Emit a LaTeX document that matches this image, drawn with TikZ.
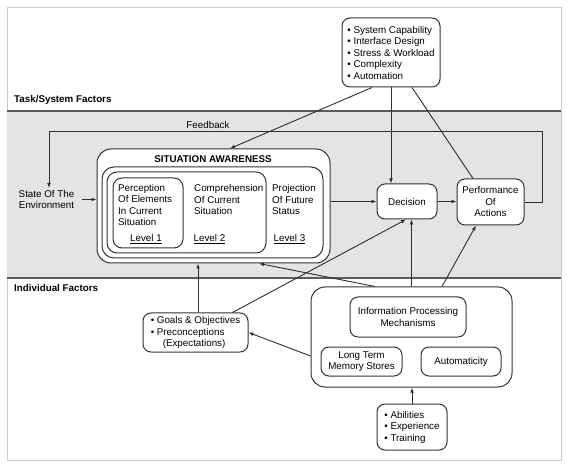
\documentclass[tikz,border=0pt]{standalone}
\usepackage{fontspec}
\setmainfont{Liberation Sans}
\usetikzlibrary{arrows.meta,calc}
\definecolor{framec}{HTML}{C8CCD6}
\definecolor{panelc}{HTML}{E4E4E4}
\definecolor{edgec}{HTML}{333333}
\definecolor{linec}{HTML}{2E2E2E}
\newcommand\fsz{\fontsize{9.8}{11.5}\selectfont}
\begin{document}
\begin{tikzpicture}[x=1pt,y=-1pt,
  every node/.style={font=\fsz, text=black},
  box/.style={draw=edgec, line width=1pt, rounded corners=8pt, fill=white, inner sep=0pt, align=center},
  txt/.style={inner sep=0pt, align=left},
  conn/.style={draw=linec, line width=0.9pt},
  arr/.style={conn, -{Latex[length=5pt,width=3.8pt]}},
  lab/.style={inner sep=0pt, font=\fsz\bfseries}
]
\useasboundingbox (0,0) rectangle (568,465);
\fill[white] (0,0) rectangle (568,465);
\draw[framec, line width=1pt] (7,8) rectangle (561,460);
\fill[panelc] (7,111) rectangle (561,278);
\draw[edgec!80, line width=1.1pt] (7,111) -- (561,111) (7,278) -- (561,278);

% labels
\node[lab, anchor=west] (tsf) at (14,100) {Task/System Factors};
\node[lab, anchor=west] (indf) at (14,288) {Individual Factors};
\node[txt] (fb) at (208,125) {Feedback};
\node[inner sep=2pt, align=center] (env) at (46.5,199.5) {State Of The\\Environment};

% top box
\node[box, minimum width=98pt, minimum height=69pt, align=left] (sys) at (391,52.5)
  {\textbullet\ System Capability\\\textbullet\ Interface Design\\\textbullet\ Stress \& Workload\\\textbullet\ Complexity\\\textbullet\ Automation};

% situation awareness
\node[box, rounded corners=14pt, minimum width=233pt, minimum height=114pt] (sa) at (213.5,206) {};
\node[box, rounded corners=12pt, minimum width=221pt, minimum height=91pt] (l3) at (212.5,212.5) {};
\node[box, rounded corners=10pt, minimum width=159pt, minimum height=81pt] (l2) at (186.5,212.5) {};
\node[box, rounded corners=9pt, minimum width=70pt, minimum height=70pt] (l1) at (148,213) {};
\node[lab] (satitle) at (213,159) {SITUATION AWARENESS};
\node[txt, anchor=west] (perc) at (118,205) {Perception\\Of Elements\\In Current\\Situation};
\node[txt] (lev1) at (146,239) {\underline{Level 1}};
\node[txt, anchor=west] (comp) at (194,199.5) {Comprehension\\Of Current\\Situation};
\node[txt] (lev2) at (209.5,239) {\underline{Level 2}};
\node[txt, anchor=west] (proj) at (272,199.5) {Projection\\Of Future\\Status};
\node[txt] (lev3) at (289.5,239) {\underline{Level 3}};

% decision / performance
\node[box, minimum width=60pt, minimum height=35pt] (dec) at (407,201.5) {Decision};
\node[box, minimum width=67pt, minimum height=46pt] (perf) at (490.5,202) {Performance\\Of\\Actions};

% individual factors
\node[box, minimum width=105pt, minimum height=39pt, align=left] (goals) at (195.5,332.5)
  {\textbullet\ Goals \& Objectives\\\textbullet\ Preconceptions\\\hspace*{12pt}(Expectations)};
\node[box, rounded corners=14pt, minimum width=201pt, minimum height=100pt] (ind) at (411.5,337) {};
\node[box, minimum width=116pt, minimum height=40pt] (ipm) at (408,317) {Information Processing\\Mechanisms};
\node[box, minimum width=81pt, minimum height=29pt] (ltm) at (361.5,361.5) {Long Term\\Memory Stores};
\node[box, minimum width=80pt, minimum height=29pt] (auto) at (461,361.5) {Automaticity};
\node[box, minimum width=70pt, minimum height=46pt, align=left] (abil) at (412,427)
  {\textbullet\ Abilities\\\textbullet\ Experience\\\textbullet\ Training};

% connectors
\coordinate (fbc) at (542,131);
\draw[arr] ([xshift=-19pt]sys.south) -- ([xshift=16.5pt]sa.north);
\draw[arr] (sys.south) -- (sys.south |- dec.north);
\draw[conn] ([xshift=21pt]sys.south) -- ([xshift=-17.5pt]perf.north);
\draw[arr] (sa.east |- dec.west) -- (dec.west);
\draw[arr] (dec.east) -- (dec.east -| perf.west);
\draw[arr] (perf.east) -| (fbc) -| ([xshift=2.5pt]env.north);
\draw[arr] ([xshift=6pt]env.east) -- (env.east -| sa.west);
\draw[arr] ([xshift=2.5pt]goals.north) -- ([xshift=2.5pt]goals.north |- sa.south);
\draw[arr] ([xshift=37pt]goals.north) -- ([xshift=-1pt]dec.south);
\draw[arr] ([xshift=-36.5pt]ind.north) -- ([xshift=45.5pt]sa.south);
\draw[arr] (ind.north) -- (ind.north |- dec.south);
\draw[arr] ([xshift=30.5pt]ind.north) -- ([xshift=-14.5pt]perf.south);
\draw[arr] ([yshift=-19pt]ind.west) -- (goals.east);
\draw[arr] (abil.north) -- (abil.north |- ind.south);
\end{tikzpicture}
\end{document}
